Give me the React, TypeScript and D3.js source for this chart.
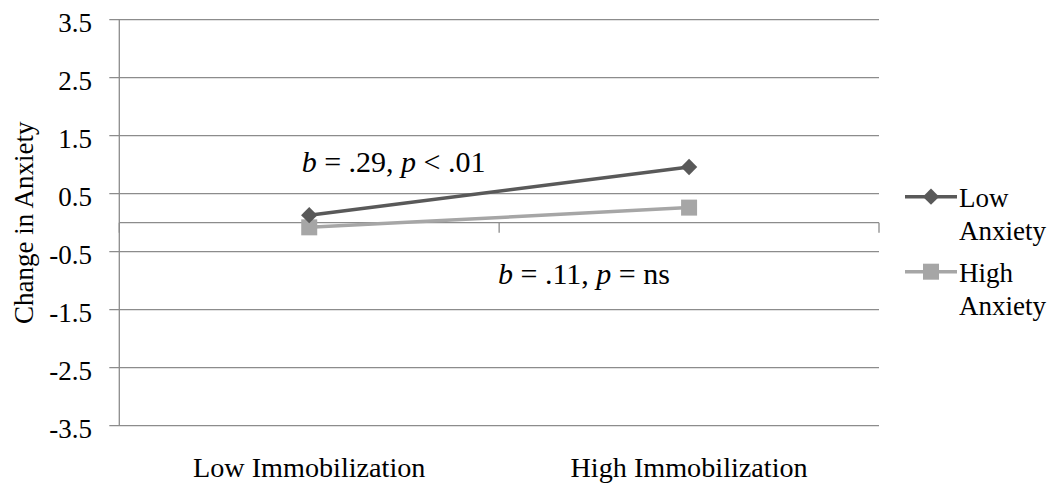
import React from 'react';
import * as d3 from 'd3';

const categories = ['Low Immobilization', 'High Immobilization'];
const lowAnxiety = [0.13, 0.96];
const highAnxiety = [-0.08, 0.26];
const seriesNames = [['Low', 'Anxiety'], ['High', 'Anxiety']];
const yTicks = [-3.5, -2.5, -1.5, -0.5, 0.5, 1.5, 2.5, 3.5];
const annotations = ['b = .29, p < .01', 'b = .11, p = ns'];

const W = 1060;
const H = 488;
const FONT = "'Liberation Serif', 'Times New Roman', Times, serif";
const DARK = '#595959';
const LIGHT = '#a6a6a6';
const GRID = '#8c8c8c';

// renders "b = .29, p < .01" with the letters b and p in italics
const Stat = ({ text, x, y }: { text: string; x: number; y: number }) => {
  const parts = text.split(/(\b[bp]\b)/);
  return (
    <text x={x} y={y} fontSize={30} fill="#000">
      {parts.map((p, i) =>
        p === 'b' || p === 'p' ? (
          <tspan key={i} fontStyle="italic">{p}</tspan>
        ) : (
          <tspan key={i}>{p}</tspan>
        )
      )}
    </text>
  );
};

const App = () => {
  const x = d3.scaleBand().domain(categories).range([119.3, 879]);
  const y = d3.scaleLinear().domain([-3.5, 3.5]).range([425.7, 19.7]);
  const cx = (c: string) => (x(c) as number) + x.bandwidth() / 2;

  const line = d3
    .line<number>()
    .x((_, i) => cx(categories[i]))
    .y((d) => y(d));

  const diamond = d3.symbol().type(d3.symbolDiamond2).size(170)();
  const square = (s: number) => `M${-s / 2},${-s / 2}h${s}v${s}h${-s}Z`;

  const [x0, x1] = x.range();
  const boundaries = [x0, ...categories.map((c) => (x(c) as number) + x.bandwidth())];

  return (
    <svg
      width={W}
      height={H}
      style={{ position: 'absolute', left: 0, top: 0, background: '#fff', fontFamily: FONT }}
    >
      {/* gridlines + y ticks */}
      {yTicks.map((t) => (
        <g key={t}>
          <line x1={x0 - 10} x2={x1} y1={y(t)} y2={y(t)} stroke={GRID} strokeWidth={1.3} />
          <text x={92} y={y(t) + 12} textAnchor="end" fontSize={27} fill="#000">
            {t.toFixed(1)}
          </text>
        </g>
      ))}
      {/* left axis */}
      <line x1={x0} x2={x0} y1={y(3.5)} y2={y(-3.5)} stroke={GRID} strokeWidth={1.3} />
      {/* horizontal axis at zero */}
      <line x1={x0} x2={x1} y1={y(0)} y2={y(0)} stroke={GRID} strokeWidth={1.3} />
      {boundaries.map((b, i) => (
        <line key={i} x1={b} x2={b} y1={y(0)} y2={y(0) + 10} stroke={GRID} strokeWidth={1.3} />
      ))}

      {/* category labels */}
      {categories.map((c) => (
        <text key={c} x={cx(c)} y={476.7} textAnchor="middle" fontSize={28.2} fill="#000">
          {c}
        </text>
      ))}

      {/* y title */}
      <text
        transform={`translate(33, ${(y(3.5) + y(-3.5)) / 2}) rotate(-90)`}
        textAnchor="middle"
        fontSize={27}
        fill="#000"
      >
        Change in Anxiety
      </text>

      {/* series */}
      <path d={line(highAnxiety) as string} fill="none" stroke={LIGHT} strokeWidth={3.5} />
      {highAnxiety.map((v, i) => (
        <path key={i} d={square(16)} transform={`translate(${cx(categories[i])},${y(v)})`} fill={LIGHT} />
      ))}
      <path d={line(lowAnxiety) as string} fill="none" stroke={DARK} strokeWidth={3.5} />
      {lowAnxiety.map((v, i) => (
        <path key={i} d={diamond as string} transform={`translate(${cx(categories[i])},${y(v)})`} fill={DARK} />
      ))}

      {/* annotations */}
      <Stat text={annotations[0]} x={301.7} y={171.7} />
      <Stat text={annotations[1]} x={498} y={284} />

      {/* legend */}
      {[
        { name: seriesNames[0], color: DARK, marker: diamond as string, ly: 196.7 },
        { name: seriesNames[1], color: LIGHT, marker: square(16), ly: 271.7 },
      ].map((s, i) => (
        <g key={i}>
          <line x1={905} x2={957} y1={s.ly} y2={s.ly} stroke={s.color} strokeWidth={3.5} />
          <path d={s.marker} transform={`translate(931,${s.ly})`} fill={s.color} />
          <text x={959} y={s.ly + 10} fontSize={27} fill="#000">
            {s.name[0]}
          </text>
          <text x={959} y={s.ly + 43.5} fontSize={27} fill="#000">
            {s.name[1]}
          </text>
        </g>
      ))}
    </svg>
  );
};

export default App;
